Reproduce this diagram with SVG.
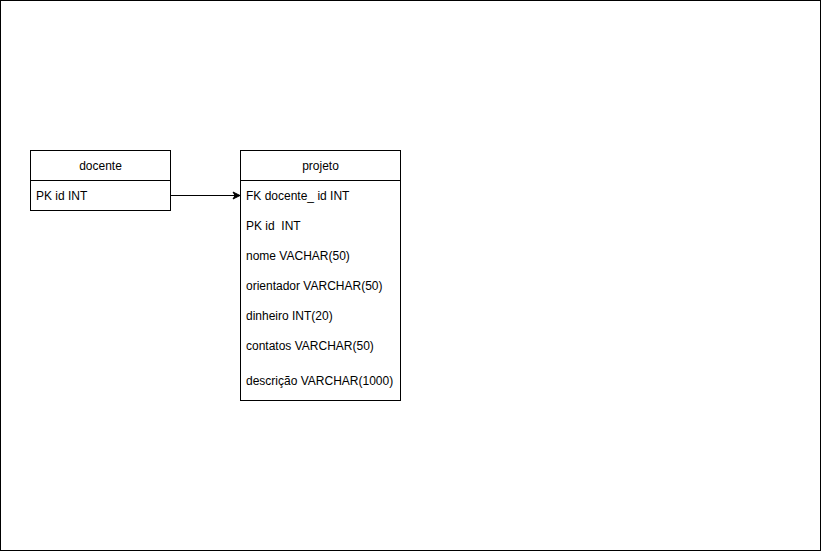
<svg xmlns="http://www.w3.org/2000/svg" width="821" height="551" viewBox="0 0 821 551">
<style>
.box{fill:#fff;stroke:#000;stroke-width:1}
.t{font-family:"Liberation Sans",Arial,sans-serif;font-size:12px;fill:#000;dominant-baseline:central;white-space:pre}
.c{text-anchor:middle}
</style>
<defs>
<marker id="arr" markerWidth="10" markerHeight="10" refX="8" refY="5" orient="auto" markerUnits="userSpaceOnUse">
<path d="M1,1.5 L8,5 L1,8.5 L3,5 Z" fill="#000" stroke="#000" stroke-width="1"/>
</marker>
</defs>
<rect x="0.5" y="0.5" width="820" height="550" fill="#fff" stroke="#000"/>
<g id="docente">
<rect class="box" x="30.5" y="150.5" width="140" height="60"/>
<line x1="30.5" y1="180.5" x2="170.5" y2="180.5" stroke="#000"/>
<text class="t c" x="100.5" y="165.5">docente</text>
<text class="t" x="36" y="195.5">PK id INT</text>
</g>
<g id="projeto">
<rect class="box" x="240.5" y="150.5" width="160" height="250"/>
<line x1="240.5" y1="180.5" x2="400.5" y2="180.5" stroke="#000"/>
<text class="t c" x="320.5" y="165.5">projeto</text>
<text class="t" x="246" y="195.5">FK docente_ id INT</text>
<text class="t" x="246" y="225.5" xml:space="preserve">PK id  INT</text>
<text class="t" x="246" y="255.5">nome VACHAR(50)</text>
<text class="t" x="246" y="285.5">orientador VARCHAR(50)</text>
<text class="t" x="246" y="315.5">dinheiro INT(20)</text>
<text class="t" x="246" y="345.5">contatos VARCHAR(50)</text>
<text class="t" x="246" y="380.5">descrição VARCHAR(1000)</text>
</g>
<g id="connectors">
<line x1="170.5" y1="195.5" x2="240" y2="195.5" stroke="#000" marker-end="url(#arr)"/>
</g>
</svg>
